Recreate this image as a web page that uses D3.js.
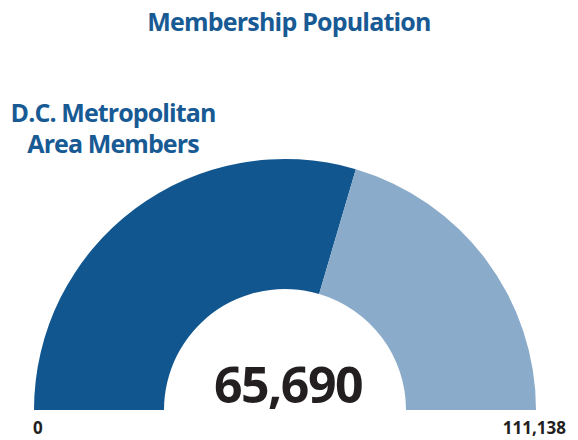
<!DOCTYPE html>
<html>
<head>
<meta charset="utf-8">
<script src="https://cdn.jsdelivr.net/npm/d3@7"></script>
<style>
  body { margin: 0; background: #fff; }
  svg text { font-family: "Open Sans", "Noto Sans", sans-serif; }
</style>
</head>
<body>
<div id="chart"></div>
<script>
const chartTitle = "Membership Population";
const subtitleLines = ["D.C. Metropolitan", "Area Members"];
const gaugeMin = 0;
const gaugeMax = 111138;
const gaugeValue = 65690;
const gaugeColors = ["#12568f", "#8aabca"];

const width = 578, height = 440;
const cx = 285, cy = 410;
const outerR = 251, innerR = 121;

const svg = d3.select("#chart").append("svg")
    .attr("width", width)
    .attr("height", height);

// Title
svg.append("text")
    .attr("x", 289)
    .attr("y", 31)
    .attr("text-anchor", "middle")
    .style("fill", "#175a94")
    .style("font-size", "25px")
    .style("font-weight", "700")
    .style("letter-spacing", "-0.8px")
    .text(chartTitle);

svg.selectAll(".sub")
    .data(subtitleLines)
    .enter()
    .append("text")
    .attr("class", "sub")
    .attr("x", 113)
    .attr("y", (d, i) => 122 + i * 31)
    .attr("text-anchor", "middle")
    .style("fill", "#175a94")
    .style("font-size", "25px")
    .style("font-weight", "700")
    .style("letter-spacing", "-0.9px")
    .text(d => d);

// angle scale: min at left (-90deg), max at right (+90deg)
const angle = d3.scaleLinear()
    .domain([gaugeMin, gaugeMax])
    .range([-Math.PI / 2, Math.PI / 2]);

const arc = d3.arc()
    .innerRadius(innerR)
    .outerRadius(outerR);

const segments = [
    { start: gaugeMin, end: gaugeValue },
    { start: gaugeValue, end: gaugeMax }
];

const g = svg.append("g")
    .attr("transform", `translate(${cx},${cy})`);

g.selectAll("path")
    .data(segments)
    .enter()
    .append("path")
    .attr("d", d => arc({ startAngle: angle(d.start), endAngle: angle(d.end) }))
    .attr("fill", (d, i) => gaugeColors[i]);

// Value
svg.append("text")
    .attr("x", 288)
    .attr("y", 403)
    .attr("text-anchor", "middle")
    .style("fill", "#231f20")
    .style("font-size", "50px")
    .style("font-weight", "700")
    .style("letter-spacing", "-1.5px")
    .text(d3.format(",")(gaugeValue));

// Min / max labels
svg.append("text")
    .attr("x", 33)
    .attr("y", 434)
    .style("fill", "#231f20")
    .style("font-size", "17px")
    .style("font-weight", "700")
    .text(d3.format(",")(gaugeMin));

svg.append("text")
    .attr("x", 566)
    .attr("y", 434)
    .attr("text-anchor", "end")
    .style("fill", "#231f20")
    .style("font-size", "17px")
    .style("font-weight", "700")
    .text(d3.format(",")(gaugeMax));
</script>
</body>
</html>
